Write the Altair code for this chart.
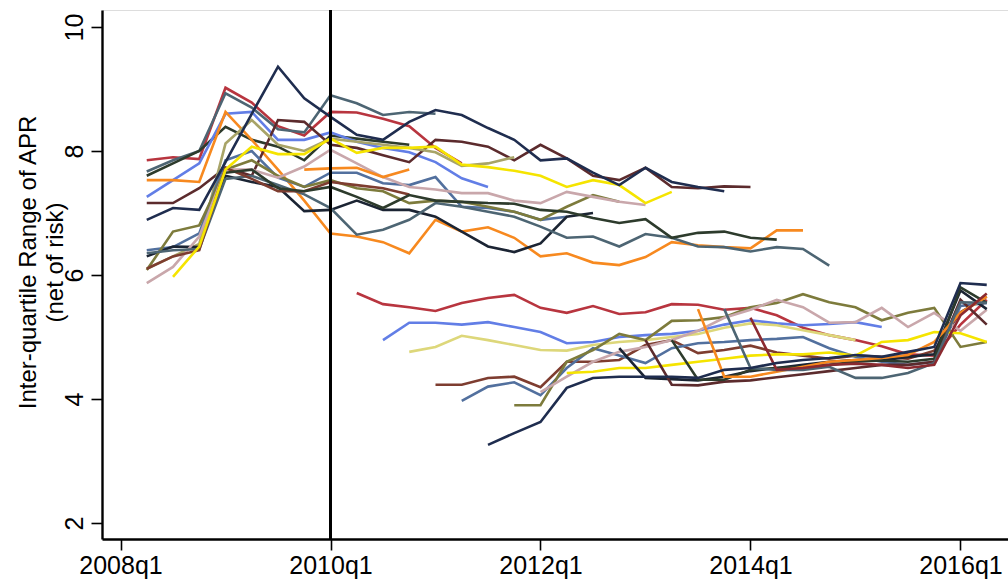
import altair as alt
import pandas as pd

# Quarter index: 0 = 2008q1, 1 = 2008q2, ... 33 = 2016q2
FONT = "Liberation Sans"

# Each series: (name, colour, first quarter index, values)
navy = "#1f2d4f"
navy2 = "#1b2433"
red = "#b8353f"
maroon = "#8b2a30"
slate = "#4d6573"
orange = "#f7891f"
blue = "#627ee6"
steel = "#52709e"
yellow = "#f5e400"
paleyellow = "#ddd77a"
olive = "#7d7b3c"
khaki = "#a8a468"
darkbrown = "#5c2b2d"
brown = "#7e3d30"
pink = "#c9a7ab"
darkgreen = "#2d3b2c"

# Lenders observed from 2008q2 onwards
s_red = [7.85, 7.9, 7.87, 9.02, 8.78, 8.4, 8.25, 8.63, 8.62, 8.52, 8.4, 8.05, 7.8]
s_slate = [7.67, 7.85, 8.0, 8.93, 8.7, 8.35, 8.3, 8.9, 8.77, 8.58, 8.63, 8.6]
s_navy = [6.89, 7.08, 7.05, 7.82, 8.6, 9.36, 8.85, 8.55, 8.26, 8.18, 8.47, 8.66, 8.58,
          8.37, 8.18, 7.85, 7.88, 7.65, 7.45, 7.73, 7.5, 7.42, 7.35]
s_darkbrown = [7.16, 7.16, 7.4, 7.73, 7.6, 8.5, 8.47, 8.1, 8.05, 7.93, 7.82, 8.18, 8.15,
               8.07, 7.85, 8.1, 7.88, 7.6, 7.53, 7.73, 7.42, 7.4, 7.43, 7.42]
s_orange = [7.53, 7.53, 7.5, 8.63, 8.18, 7.7, 7.2, 6.67, 6.62, 6.53, 6.35, 6.89, 6.7,
            6.77, 6.6, 6.3, 6.35, 6.2, 6.16, 6.29, 6.53, 6.48, 6.45, 6.43, 6.72, 6.72]
s_blue = [7.26, 7.53, 7.8, 8.6, 8.63, 8.18, 8.18, 8.3, 8.15, 8.05, 7.98, 7.82, 7.56, 7.42]
s_darkgreen = [7.6, 7.8, 8.0, 8.39, 8.18, 8.07, 7.85, 8.25, 8.2, 8.15, 8.1]
s_khaki = [6.1, 6.3, 6.5, 8.12, 8.5, 8.1, 8.0, 8.2, 8.15, 8.1, 8.05, 7.98, 7.76, 7.8, 7.9]
s_steel = [6.4, 6.45, 6.67, 7.85, 8.0, 7.57, 7.42, 7.65, 7.65, 7.48, 7.45, 7.58, 7.1,
           7.08, 7.02, 6.89, 6.94]
s_navy2 = [6.3, 6.46, 6.45, 7.6, 7.5, 7.42, 7.03, 7.05, 7.2, 7.05, 7.05, 6.94, 6.7,
           6.46, 6.37, 6.51, 6.94, 7.0]
s_olive = [6.08, 6.7, 6.8, 7.7, 7.85, 7.6, 7.42, 7.53, 7.4, 7.35, 7.16, 7.2, 7.18, 7.1,
           7.02, 6.89, 7.1, 7.29, 7.18]
s_pink = [5.87, 6.13, 6.62, 7.7, 7.7, 7.57, 7.75, 8.02, 7.8, 7.58, 7.42, 7.38, 7.32,
          7.32, 7.2, 7.16, 7.34, 7.26, 7.18, 7.13]
s_slate2 = [6.35, 6.4, 6.42, 7.55, 7.6, 7.45, 7.3, 7.08, 6.65, 6.73, 6.89, 7.16, 7.1,
            7.02, 6.94, 6.78, 6.6, 6.62, 6.46, 6.66, 6.6, 6.46, 6.45, 6.38, 6.45, 6.42, 6.15]
s_brown = [6.1, 6.3, 6.4, 7.73, 7.55, 7.35, 7.35, 7.5, 7.45, 7.4, 7.3]
# Starting later in the boom years
s_yellow = [5.97, 6.46, 7.7, 8.07, 7.95, 7.95, 8.2, 7.97, 8.05, 8.05, 8.07, 7.78, 7.74,
            7.68, 7.6, 7.42, 7.53, 7.45, 7.16, 7.34]
s_orange2 = [7.7, 7.72, 7.73, 7.58, 7.7]
s_darkgreen2 = [7.65, 7.7, 7.4, 7.35, 7.42, 7.26, 7.08, 7.29, 7.2, 7.18, 7.16, 7.15,
                7.05, 7.02, 6.92, 6.84, 6.9, 6.6, 6.68, 6.7, 6.6, 6.57]

# Lenders entering after 2010q1
n_red = [5.71, 5.53, 5.48, 5.42, 5.55, 5.63, 5.68, 5.47, 5.39, 5.5, 5.37, 5.4, 5.53,
         5.52, 5.44, 5.47, 5.35, 5.15, 5.03, 4.95, 4.85, 4.72, 4.7, 5.2, 5.6]
n_blue = [4.95, 5.23, 5.23, 5.2, 5.24, 5.16, 5.08, 4.9, 4.92, 5.0, 5.03, 5.05, 5.1,
          5.2, 5.27, 5.22, 5.19, 5.21, 5.24, 5.16]
n_paleyellow = [4.76, 4.84, 5.02, 4.95, 4.87, 4.79, 4.78, 4.87, 4.92, 4.95, 5.0, 5.05,
                5.15, 5.22, 5.19, 5.11, 5.03, 4.95]
n_brown = [4.23, 4.23, 4.34, 4.36, 4.19, 4.6, 4.6, 4.63, 4.87, 4.95, 4.74, 4.79, 4.86,
           4.75, 4.7, 4.65, 4.7, 4.68, 4.65, 4.78, 5.4, 5.65]
n_steel = [3.97, 4.2, 4.27, 4.06, 4.5, 4.82, 4.7, 4.58, 4.82, 4.9, 4.92, 4.95, 4.97,
           5.0, 4.82, 4.68, 4.6, 4.55, 4.6, 5.5, 5.55]
n_olive = [3.9, 3.9, 4.6, 4.79, 5.05, 4.95, 5.26, 5.27, 5.32, 5.48, 5.55, 5.69, 5.56,
           5.48, 5.27, 5.39, 5.47, 4.84, 4.92]
n_navy = [3.26, 3.45, 3.63, 4.18, 4.34, 4.36, 4.36, 4.36, 4.34, 4.47, 4.5, 4.58, 4.63,
          4.66, 4.71, 4.68, 4.76, 4.84, 5.87, 5.84]
n_pink = [4.11, 4.36, 4.6, 4.76, 4.84, 4.95, 5.1, 5.31, 5.44, 5.6, 5.48, 5.23, 5.24,
          5.47, 5.16, 5.39, 5.1, 5.44]
n_yellow = [4.42, 4.44, 4.5, 4.5, 4.55, 4.6, 4.65, 4.7, 4.72, 4.72, 4.75, 4.7, 4.92,
            4.95, 5.08, 5.06, 4.92]
n_navy2 = [4.82, 4.34, 4.32, 4.3, 4.36, 4.45, 4.5, 4.55, 4.6, 4.63, 4.62, 4.68, 4.72,
           5.75, 5.45]
n_darkbrown = [4.95, 4.23, 4.22, 4.28, 4.3, 4.35, 4.4, 4.45, 4.5, 4.55, 4.55, 4.6,
               5.6, 5.2]
n_darkgreen = [4.95, 4.31, 4.31, 4.47, 4.5, 4.52, 4.55, 4.6, 4.62, 4.6, 4.65, 5.8, 5.55]
n_orange = [5.45, 4.36, 4.36, 4.44, 4.52, 4.6, 4.63, 4.66, 4.71, 4.92, 5.39, 5.65]
n_slate = [5.45, 4.5, 4.47, 4.47, 4.52, 4.34, 4.34, 4.42, 4.58, 5.56, 5.55]
n_maroon = [5.31, 4.47, 4.5, 4.55, 4.57, 4.55, 4.5, 4.55, 5.35, 5.7]

series = [
    ("A01", red, 1, s_red),
    ("A02", slate, 1, s_slate),
    ("A03", darkgreen, 1, s_darkgreen),
    ("A04", blue, 1, s_blue),
    ("A05", orange, 1, s_orange),
    ("A06", darkbrown, 1, s_darkbrown),
    ("A07", khaki, 1, s_khaki),
    ("A08", steel, 1, s_steel),
    ("A09", navy2, 1, s_navy2),
    ("A10", olive, 1, s_olive),
    ("A11", pink, 1, s_pink),
    ("A12", slate, 1, s_slate2),
    ("A13", brown, 1, s_brown),
    ("A14", darkgreen, 4, s_darkgreen2),
    ("A15", orange, 7, s_orange2),
    ("A16", yellow, 2, s_yellow),
    ("A17", navy, 1, s_navy),
    ("B01", red, 9, n_red),
    ("B02", blue, 10, n_blue),
    ("B03", paleyellow, 11, n_paleyellow),
    ("B04", brown, 12, n_brown),
    ("B05", steel, 13, n_steel),
    ("B06", olive, 15, n_olive),
    ("B07", pink, 16, n_pink),
    ("B08", yellow, 17, n_yellow),
    ("B09", navy2, 19, n_navy2),
    ("B10", darkbrown, 20, n_darkbrown),
    ("B11", darkgreen, 21, n_darkgreen),
    ("B12", orange, 22, n_orange),
    ("B13", slate, 23, n_slate),
    ("B14", maroon, 24, n_maroon),
    ("B15", navy, 14, n_navy),
]

rows = []
for order, (name, colour, start, values) in enumerate(series):
    for i, v in enumerate(values):
        rows.append({"lender": name, "q": start + i, "iqr": v, "order": order})
df = pd.DataFrame(rows)

names = [s[0] for s in series]
colours = [s[1] for s in series]

tick_values = [0, 8, 16, 24, 32]
reform_q = 8  # 2010q1

x_scale = alt.Scale(domain=[-0.705, 33.81], nice=False, zero=False)
y_scale = alt.Scale(domain=[1.742, 10.274], nice=False, zero=False)

lines = alt.Chart(df).mark_line(strokeWidth=2.6, strokeJoin="miter").encode(
    x=alt.X("q:Q", scale=x_scale,
            axis=alt.Axis(values=tick_values, title=None, grid=False,
                          labelExpr="toString(2008 + datum.value / 4) + 'q1'",
                          labelFontSize=25, labelFont=FONT, labelColor="#000",
                          labelPadding=3, tickSize=11, tickWidth=1.6,
                          tickColor="#000", domainColor="#000", domainWidth=2.4,
                          labelFlush=False, labelOverlap=False)),
    y=alt.Y("iqr:Q", scale=y_scale,
            axis=alt.Axis(values=[2, 4, 6, 8, 10], grid=False,
                          title=["Inter-quartile Range of APR", "(net of risk)"],
                          titleFont=FONT, titleFontSize=24, titleFontWeight="normal",
                          titleColor="#000", titleAngle=270, titleAlign="center",
                          titleBaseline="middle", titleLineHeight=27,
                          titleX=-74, titleY=252,
                          labelAngle=270, labelAlign="center", labelBaseline="bottom",
                          labelFontSize=25, labelFont=FONT, labelColor="#000",
                          labelPadding=4, tickSize=11, tickWidth=1.6,
                          tickColor="#000", domainColor="#000", domainWidth=2.4,
                          labelOverlap=False)),
    color=alt.Color("lender:N", scale=alt.Scale(domain=names, range=colours), legend=None),
    detail="lender:N",
    order="q:Q",
)

reform = alt.Chart(pd.DataFrame({"q": [reform_q]})).mark_rule(
    color="#000", strokeWidth=3
).encode(x=alt.X("q:Q", scale=x_scale))

chart = alt.layer(lines, reform).properties(
    width=906, height=529,
    autosize=alt.AutoSizeParams(type="none"),
    padding={"left": 102, "top": 10, "right": 0, "bottom": 42},
).configure_view(stroke=None).configure(background="white")

chart.save("out.html", embed_options={"renderer": "svg", "actions": False})
